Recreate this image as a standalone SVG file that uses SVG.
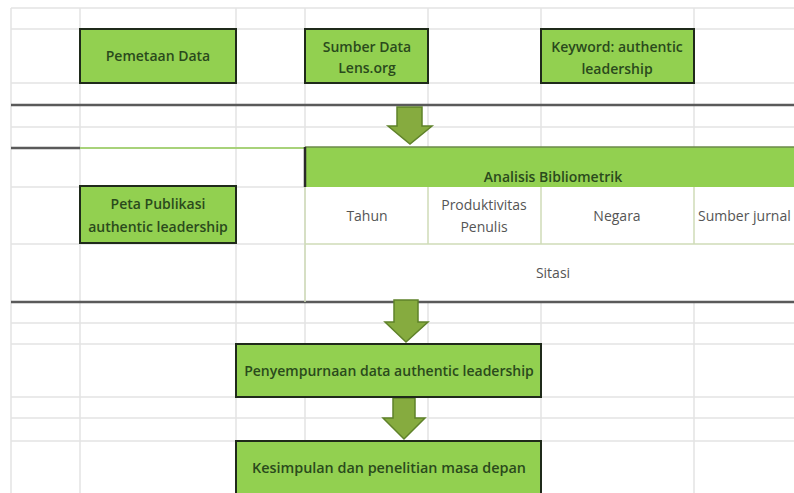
<svg xmlns="http://www.w3.org/2000/svg" width="794" height="493" viewBox="0 0 794 493">
<style>
.grid{stroke:#e3e3e3;stroke-width:1.5;fill:none}
.dark{stroke:#5a5a5a;stroke-width:2.5;fill:none}
.cell{stroke:#cfdcb8;stroke-width:1.5;fill:none}
.box{fill:#92d050;stroke:#1f2a1a;stroke-width:2}
.bt{font-family:"Open Sans","Liberation Sans",sans-serif;font-size:14px;font-weight:600;fill:#2a4a1c;text-anchor:middle}
.tt{font-family:"Open Sans","Liberation Sans",sans-serif;font-size:14px;fill:#555;text-anchor:middle}
.arr{fill:#86ab3f;stroke:#5f822a;stroke-width:1.5;stroke-linejoin:miter}
</style>
<rect width="794" height="493" fill="#ffffff"/>
<g id="grid">
<path class="grid" d="M11 8H794M11 29H794M11 83H794M11 127H794M11 187H305M11 244H305M11 323H794M11 344H794M11 397H794M11 418H794M11 441H794"/>
<path class="grid" d="M11 8V493M80 8V493M236 8V493M305 8V493M428 8V148M428 302V493M541 8V148M541 302V493M694 8V148M694 302V493"/>
<path class="dark" d="M11 105H794M11 148H80M11 302H794"/>
<path d="M80 148H305" stroke="#a8d27a" stroke-width="2"/>
</g>
<g id="table">
<rect x="305" y="147" width="489" height="40" fill="#92d050"/>
<path d="M305 147H794" stroke="#6b8a4a" stroke-width="1.5"/>
<path d="M305 147V187" stroke="#2a2a2a" stroke-width="2.5"/>
<path class="cell" d="M305 187V302M428 187V244M541 187V244M694 187V244M305 244H794"/>
<text class="bt" x="553" y="182" font-weight="500">Analisis Bibliometrik</text>
<text class="tt" x="367" y="221">Tahun</text>
<text class="tt" x="484" y="210">Produktivitas</text>
<text class="tt" x="484" y="232">Penulis</text>
<text class="tt" x="617" y="221">Negara</text>
<text class="tt" x="698" y="221" style="text-anchor:start">Sumber jurnal</text>
<text class="tt" x="553" y="278">Sitasi</text>
</g>
<g id="connectors">
<path class="arr" d="M397 107H422V126H432L410 144L388 126H397Z"/>
<path class="arr" d="M394 300H418V322H428L406 342L385 322H394Z"/>
<path class="arr" d="M393 398H415V418H425L404 439L383 418H393Z"/>
</g>
<g id="pemetaan">
<rect class="box" x="80" y="29" width="156" height="54"/>
<text class="bt" x="158" y="61">Pemetaan Data</text>
</g>
<g id="sumber">
<rect class="box" x="305" y="29" width="123" height="54"/>
<text class="bt" x="367" y="52">Sumber Data</text>
<text class="bt" x="367" y="73">Lens.org</text>
</g>
<g id="keyword">
<rect class="box" x="541" y="29" width="153" height="54"/>
<text class="bt" x="617" y="52">Keyword: authentic</text>
<text class="bt" x="617" y="74">leadership</text>
</g>
<g id="peta">
<rect class="box" x="80" y="186" width="156" height="57"/>
<text class="bt" x="158" y="209">Peta Publikasi</text>
<text class="bt" x="158" y="232">authentic leadership</text>
</g>
<g id="penyempurnaan">
<rect class="box" x="236" y="344" width="305" height="53"/>
<text class="bt" x="389" y="376">Penyempurnaan data authentic leadership</text>
</g>
<g id="kesimpulan">
<rect class="box" x="236" y="441" width="305" height="56"/>
<text class="bt" x="389" y="473" font-size="13" textLength="274" lengthAdjust="spacingAndGlyphs">Kesimpulan dan penelitian masa depan</text>
</g>
</svg>
